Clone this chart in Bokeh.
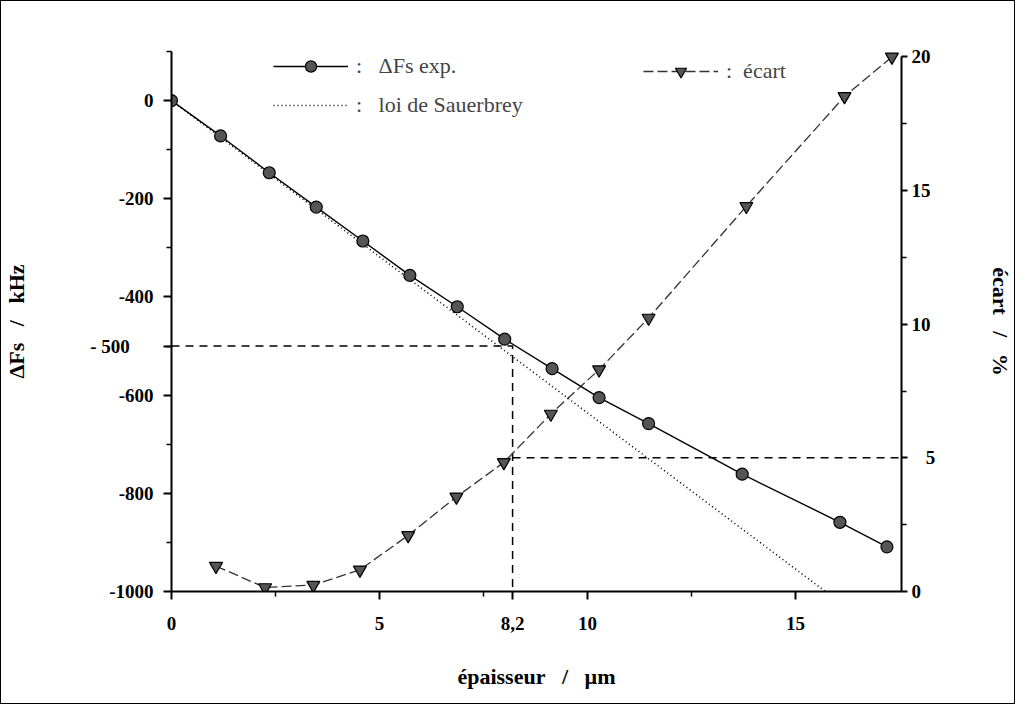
from bokeh.plotting import figure
from bokeh.models import Range1d, LinearAxis, FixedTicker, Legend, LegendItem
from bokeh.embed import file_html
from bokeh.resources import INLINE

# ---- data ----
thickness_exp = [0, 1.18, 2.35, 3.48, 4.60, 5.73, 6.87, 8.01, 9.15, 10.28, 11.47, 13.72, 16.07, 17.20]
dFs_exp = [0, -72, -147, -217, -286, -356, -420, -486, -546, -605, -658, -761, -859, -909]
sauerbrey_x = [0, 15.72]
sauerbrey_y = [0, -1000]
thickness_ecart = [1.07, 2.25, 3.41, 4.53, 5.69, 6.85, 7.99, 9.12, 10.28, 11.47, 13.82, 16.18, 17.32]
ecart = [0.95, 0.15, 0.24, 0.81, 2.10, 3.54, 4.83, 6.64, 8.30, 10.23, 14.41, 18.52, 20.0]
ref_thickness = 8.2
ref_dFs = -500
ref_ecart = 5
x_ticks = [0, 5, 10, 15]
x_minor = [2.5, 7.5, 12.5]
left_ticks = [-1000, -800, -600, -400, -200, 0]
left_minor = [-900, -700, -500, -300, -100, 100]
right_ticks = [0, 5, 10, 15, 20]
right_minor = [2.5, 7.5, 12.5, 17.5]

FONT = "Liberation Serif"
X0, X1 = 0, 17.55
Y0, Y1 = -1000, 100
R0, R1 = 0, 20.2

p = figure(width=1015, height=704, output_backend="svg", toolbar_location=None,
           x_range=Range1d(X0, X1), y_range=Range1d(Y0, Y1),
           min_border_left=163, min_border_right=112, min_border_top=50, min_border_bottom=114,
           outline_line_color=None, background_fill_color="white", border_fill_color="white")
p.extra_y_ranges = {"ecart": Range1d(R0, R1)}
p.xgrid.visible = False
p.ygrid.visible = False
p.styles = {"border": "1.5px solid black"}

def style_axis(ax, size="19px"):
    ax.axis_line_width = 2
    ax.axis_line_color = "black"
    ax.major_tick_line_width = 2
    ax.minor_tick_line_width = 1.5
    ax.major_tick_in = 0
    ax.minor_tick_in = 0
    ax.major_tick_out = 8
    ax.minor_tick_out = 5
    ax.major_label_text_font = FONT
    ax.major_label_text_font_style = "bold"
    ax.major_label_text_font_size = size
    ax.major_label_text_color = "black"
    ax.axis_label_text_font = FONT
    ax.axis_label_text_font_style = "bold"
    ax.axis_label_text_font_size = "22px"
    ax.axis_label_text_color = "black"

# bottom axis (8,2 shown as an extra tick label)
xa = p.xaxis[0]
xa.ticker = FixedTicker(ticks=x_ticks + [ref_thickness], minor_ticks=x_minor)
style_axis(xa)
xa.major_label_standoff = 17
xa.major_label_overrides = {ref_thickness: "8,2"}
xa.axis_label = "épaisseur\u00a0\u00a0\u00a0/\u00a0\u00a0\u00a0µm"
xa.axis_label_standoff = 31

# left axis (- 500 shown as an extra tick label)
ya = p.yaxis[0]
ya.ticker = FixedTicker(ticks=left_ticks + [ref_dFs], minor_ticks=left_minor)
ya.bounds = (Y0, Y1)
style_axis(ya)
ya.major_label_standoff = 10
ov = {t: str(t) for t in left_ticks}
ov[ref_dFs] = "- 500" + "\u00a0" * 5
ya.major_label_overrides = ov
ya.axis_label = "ΔFs\u00a0\u00a0\u00a0/\u00a0\u00a0\u00a0kHz"
ya.axis_label_standoff = 58

# right axis (the 5 % value set apart, as in the original)
ra = LinearAxis(y_range_name="ecart", ticker=FixedTicker(ticks=right_ticks, minor_ticks=right_minor))
ra.bounds = (0, 20)
style_axis(ra)
ra.major_tick_out = 6
ra.major_label_standoff = 4
ra.major_label_overrides = {ref_ecart: "\u00a0\u00a0\u00a05"}
ra.axis_label = "écart\u00a0\u00a0\u00a0/\u00a0\u00a0\u00a0%"
ra.axis_label_standoff = 50
p.add_layout(ra, "right")

# guide dashed lines
p.line([X0, ref_thickness, ref_thickness], [ref_dFs, ref_dFs, Y0],
       line_color="black", line_width=1.5, line_dash="8 6")
p.line([ref_thickness, X1], [ref_ecart, ref_ecart], y_range_name="ecart",
       line_color="black", line_width=1.5, line_dash="8 6")

# Sauerbrey law
r_s = p.line(sauerbrey_x, sauerbrey_y, line_color="black", line_width=1.6, line_dash="1 3")

# écart
r_e_line = p.line(thickness_ecart, ecart, y_range_name="ecart", line_color="#333333",
                  line_width=1.3, line_dash="10 4")
r_e_pts = p.scatter(thickness_ecart, ecart, y_range_name="ecart", marker="inverted_triangle",
                    size=13, fill_color="#555555", line_color="black", line_width=1.2)

# ΔFs exp
r_f_line = p.line(thickness_exp, dFs_exp, line_color="black", line_width=1.4)
r_f_pts = p.scatter(thickness_exp, dFs_exp, marker="circle", size=12,
                    fill_color="#555555", line_color="black", line_width=1.2)

# legends
leg_kw = dict(border_line_color=None, background_fill_alpha=0, padding=0, margin=0,
              glyph_width=75, glyph_height=28, label_standoff=8, spacing=11,
              label_text_font=FONT, label_text_font_size="22px", label_height=28)
leg1 = Legend(items=[LegendItem(label=":\u00a0\u00a0\u00a0ΔFs exp.", renderers=[r_f_line, r_f_pts]),
                     LegendItem(label=":\u00a0\u00a0\u00a0loi de Sauerbrey", renderers=[r_s])],
              location=(102, 472), **leg_kw)
leg2 = Legend(items=[LegendItem(label=":\u00a0\u00a0écart", renderers=[r_e_line, r_e_pts])],
              location=(472, 506), **leg_kw)
p.add_layout(leg1)
p.add_layout(leg2)

open("out.html", "w").write(file_html(p, INLINE))
